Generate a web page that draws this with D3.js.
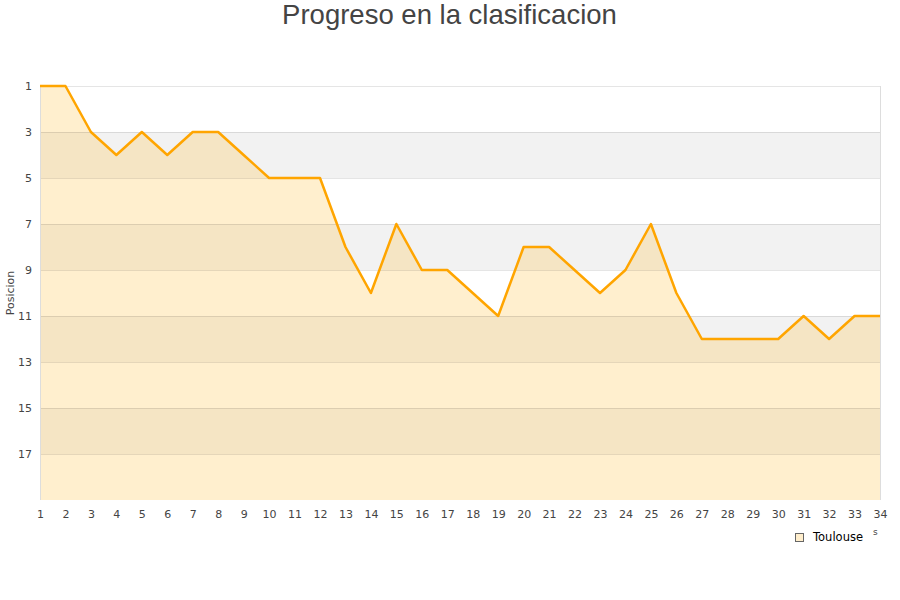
<!DOCTYPE html>
<html><head><meta charset="utf-8">
<script src="https://cdn.jsdelivr.net/npm/d3@7"></script>
<style>body{margin:0;background:#fff;} svg{display:block;}</style>
</head><body>
<svg id="c" width="900" height="600"></svg>
<script>
const rounds = d3.range(1, 35);
const positions = [1,1,3,4,3,4,3,3,4,5,5,5,8,10,7,9,9,10,11,8,8,9,10,9,7,10,12,12,12,12,11,12,11,11];
const yTicks = [1,3,5,7,9,11,13,15,17];
const teamName = "Toulouse";
const titleText = "Progreso en la clasificacion";
const yLabel = "Posicion";

const svg = d3.select("#c");
const m = {l:40, r:880, t:86, b:500};
const x = d3.scaleLinear().domain([1,34]).range([m.l, m.r]);
const y = d3.scaleLinear().domain([1,19]).range([m.t, m.b]);

svg.append("text").attr("x",449.5).attr("y",24).attr("text-anchor","middle")
  .attr("font-family","Liberation Sans, Arial, sans-serif").attr("font-size",27.5)
  .attr("fill","#444").text(titleText);

// bands
const bands = d3.range(1,19,2);
svg.selectAll("rect.band").data(bands).enter().append("rect")
  .attr("x",m.l).attr("width",m.r-m.l)
  .attr("y",d=>y(d)).attr("height",d=>y(d+2)-y(d))
  .attr("fill",(d,i)=> i%2===1 ? "#f2f2f2" : "#ffffff");

// area
const area = d3.area().x((d,i)=>x(rounds[i])).y0(m.b).y1(d=>y(d));
svg.append("path").datum(positions).attr("d",area)
  .attr("fill","rgb(255,190,60)").attr("fill-opacity",0.25);

// gridlines
svg.selectAll("line.grid").data(yTicks).enter().append("line")
  .attr("x1",m.l).attr("x2",m.r).attr("y1",d=>y(d)).attr("y2",d=>y(d))
  .attr("stroke","#000").attr("stroke-opacity",0.1).attr("stroke-width",1)
  .attr("shape-rendering","crispEdges");

// frame
svg.append("line").attr("x1",m.l).attr("x2",m.l).attr("y1",m.t).attr("y2",m.b)
  .attr("stroke","#ddd").attr("shape-rendering","crispEdges");
svg.append("line").attr("x1",m.r).attr("x2",m.r).attr("y1",m.t).attr("y2",m.b)
  .attr("stroke","#ddd").attr("shape-rendering","crispEdges");

// line
const line = d3.line().x((d,i)=>x(rounds[i])).y(d=>y(d));
svg.append("path").datum(positions).attr("d",line)
  .attr("fill","none").attr("stroke","#ffa500").attr("stroke-width",2.5)
  .attr("stroke-linejoin","round");

// y ticks
const yAxis = d3.axisLeft(y).tickValues(yTicks).tickSize(0).tickPadding(8);
const gy = svg.append("g").attr("transform",`translate(${m.l},0)`).call(yAxis);
gy.select(".domain").remove();
gy.selectAll("text").attr("font-family","DejaVu Sans, sans-serif").attr("font-size",11).attr("fill","#444");

// x ticks
const xAxis = d3.axisBottom(x).tickValues(rounds).tickSize(0).tickPadding(10).tickFormat(d3.format("d"));
const gx = svg.append("g").attr("transform",`translate(0,${m.b})`).call(xAxis);
gx.select(".domain").remove();
gx.selectAll("text").attr("font-family","DejaVu Sans, sans-serif").attr("font-size",11).attr("fill","#444");

// y label
svg.append("text").attr("transform","translate(14,293) rotate(-90)").attr("text-anchor","middle")
  .attr("font-family","DejaVu Sans, sans-serif").attr("font-size",11).attr("fill","#444").text(yLabel);

// stray x label fragment
svg.append("text").attr("x",873).attr("y",535).attr("font-family","DejaVu Sans, sans-serif")
  .attr("font-size",9).attr("fill","#444").text("s");

// legend
svg.append("rect").attr("x",795.5).attr("y",533.5).attr("width",8).attr("height",8)
  .attr("fill","#ffeecc").attr("stroke","#666").attr("stroke-width",1);
svg.append("text").attr("x",813).attr("y",541).attr("font-family","DejaVu Sans, sans-serif")
  .attr("font-size",11.5).attr("fill","#000").text(teamName);
</script>
</body></html>
